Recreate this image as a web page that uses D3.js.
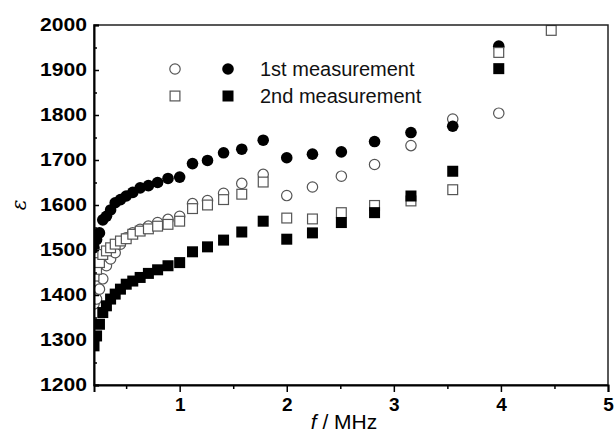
<!DOCTYPE html>
<html>
<head>
<meta charset="utf-8">
<script src="https://cdn.jsdelivr.net/npm/d3@7"></script>
<style>
  body { margin: 0; background: #fff; }
  svg { display: block; }
</style>
</head>
<body>
<div id="chart"></div>
<script>
// frequency points (MHz), 20 per decade
const freq = [0.2, 0.224, 0.251, 0.282, 0.316, 0.355, 0.398, 0.447, 0.501, 0.562,
              0.631, 0.708, 0.794, 0.891, 1.0, 1.12, 1.26, 1.41, 1.58, 1.78,
              2.0, 2.24, 2.51, 2.82, 3.16, 3.55, 3.98, 4.47];

// 1st measurement, open circles
const firstOpen = [1380, 1391, 1413, 1436, 1465, 1480, 1494, 1513, 1527, 1538,
                   1546, 1553, 1561, 1568, 1575, 1603, 1610, 1626, 1648, 1668,
                   1621, 1640, 1664, 1690, 1732, 1791, 1804, null];
// 1st measurement, filled circles
const firstFilled = [1505, 1523, 1538, 1567, 1575, 1589, 1605, 1612, 1620, 1628,
                     1638, 1643, 1650, 1659, 1662, 1692, 1699, 1716, 1724, 1744,
                     1705, 1713, 1718, 1741, 1761, 1775, 1953, null];
// 2nd measurement, open squares
const secondOpen = [1442, 1457, 1472, 1490, 1498, 1505, 1513, 1520, 1525, 1535,
                    1542, 1547, 1553, 1557, 1564, 1592, 1600, 1612, 1624, 1651,
                    1571, 1569, 1583, 1599, 1609, 1634, 1939, 1988];
// 2nd measurement, filled squares
const secondFilled = [1287, 1309, 1335, 1361, 1376, 1391, 1402, 1413, 1424, 1431,
                      1439, 1448, 1456, 1465, 1472, 1496, 1507, 1522, 1540, 1564,
                      1524, 1538, 1561, 1583, 1620, 1675, 1903, null];

const xMajor = [1, 2, 3, 4, 5];
const xMinor = [0.5, 1.5, 2.5, 3.5, 4.5];
const yMajor = [1200, 1300, 1400, 1500, 1600, 1700, 1800, 1900, 2000];
const yMinor = [1250, 1350, 1450, 1550, 1650, 1750, 1850, 1950];

const legendLabels = ["1st measurement", "2nd measurement"];

const width = 614, height = 433;
const margin = { top: 25, right: 6, bottom: 48, left: 94 };

const x = d3.scaleLinear()
    .domain([0.2, 5])
    .range([margin.left, width - margin.right]);

const y = d3.scaleLinear()
    .domain([1200, 2000])
    .range([height - margin.bottom, margin.top]);

const svg = d3.select("#chart").append("svg")
    .attr("width", width)
    .attr("height", height)
    .style("font-family", "'Liberation Sans', Arial, sans-serif");

svg.append("defs").append("clipPath")
    .attr("id", "plotClip")
    .append("rect")
    .attr("x", margin.left)
    .attr("y", margin.top)
    .attr("width", width - margin.left - margin.right)
    .attr("height", height - margin.top - margin.bottom);

const pairs = vals => freq.map((f, i) => ({ f, v: vals[i] })).filter(d => d.v != null);

const plot = svg.append("g").attr("clip-path", "url(#plotClip)");
const r = 5.8, s = 11;
const openStroke = "#555";

function circles(vals, filled) {
    plot.append("g").selectAll("circle")
        .data(pairs(vals))
        .join("circle")
        .attr("cx", d => x(d.f))
        .attr("cy", d => y(d.v))
        .attr("r", filled ? r : r - 0.6)
        .attr("fill", filled ? "#000" : "#fff")
        .attr("stroke", filled ? "none" : openStroke)
        .attr("stroke-width", 1.2);
}

function squares(vals, filled) {
    const side = filled ? s : s - 1.2;
    plot.append("g").selectAll("rect")
        .data(pairs(vals))
        .join("rect")
        .attr("x", d => x(d.f) - side / 2)
        .attr("y", d => y(d.v) - side / 2)
        .attr("width", side)
        .attr("height", side)
        .attr("fill", filled ? "#000" : "#fff")
        .attr("stroke", filled ? "none" : openStroke)
        .attr("stroke-width", 1.2);
}

// draw order as seen in the overlaps
circles(firstOpen, false);
circles(firstFilled, true);
squares(secondOpen, false);
squares(secondFilled, true);

// Frame
svg.append("rect")
    .attr("x", margin.left)
    .attr("y", margin.top)
    .attr("width", width - margin.left - margin.right)
    .attr("height", height - margin.top - margin.bottom)
    .attr("fill", "none")
    .attr("stroke", "#222")
    .attr("stroke-width", 1.5);

// X axis
const xAxis = svg.append("g")
    .attr("transform", `translate(0,${height - margin.bottom})`)
    .call(d3.axisBottom(x).tickValues(xMajor).tickSize(7).tickPadding(6).tickFormat(d3.format("d")));
xAxis.select(".domain").attr("stroke-width", 2);
xAxis.selectAll(".tick line").attr("stroke-width", 1.5);
xAxis.selectAll("text")
    .attr("font-size", 19)
    .attr("font-weight", "bold")
    .attr("font-family", "'Liberation Sans', Arial, sans-serif")
    .attr("fill", "#000");

svg.append("g")
    .attr("transform", `translate(0,${height - margin.bottom})`)
    .call(d3.axisBottom(x).tickValues(xMinor).tickSize(4).tickFormat(""))
    .call(g => g.select(".domain").remove())
    .selectAll(".tick line").attr("stroke-width", 1.5);

// Y axis (ticks point inward)
const yAxis = svg.append("g")
    .attr("transform", `translate(${margin.left},0)`)
    .call(d3.axisLeft(y).tickValues(yMajor).tickSize(-5).tickPadding(7).tickFormat(d3.format("d")));
yAxis.select(".domain").attr("stroke-width", 2);
yAxis.selectAll(".tick line").attr("stroke-width", 1.5);
yAxis.selectAll("text")
    .attr("font-size", 18)
    .attr("font-weight", "bold")
    .attr("font-family", "'Liberation Sans', Arial, sans-serif")
    .attr("fill", "#000")
    .attr("textLength", 47)
    .attr("lengthAdjust", "spacingAndGlyphs");

svg.append("g")
    .attr("transform", `translate(${margin.left},0)`)
    .call(d3.axisLeft(y).tickValues(yMinor).tickSize(-3).tickFormat(""))
    .call(g => g.select(".domain").remove())
    .selectAll(".tick line").attr("stroke-width", 1.5);

// Axis labels
const xLabel = svg.append("text")
    .attr("x", 344)
    .attr("y", 429)
    .attr("text-anchor", "middle")
    .attr("font-size", 21)
    .attr("fill", "#000");
xLabel.append("tspan").attr("font-style", "italic").text("f");
xLabel.append("tspan").text(" / MHz");

svg.append("text")
    .attr("transform", "translate(26,205) rotate(-90)")
    .attr("text-anchor", "middle")
    .attr("font-size", 20)
    .attr("font-style", "italic")
    .attr("font-family", "'DejaVu Serif', 'Liberation Serif', serif")
    .attr("fill", "#000")
    .text("ε");

// Legend
const legend = svg.append("g");
const rowY = [69, 96];

legend.append("circle").attr("cx", 175).attr("cy", rowY[0]).attr("r", r - 0.6)
    .attr("fill", "#fff").attr("stroke", openStroke).attr("stroke-width", 1.2);
legend.append("circle").attr("cx", 228).attr("cy", rowY[0]).attr("r", r)
    .attr("fill", "#000");
legend.append("rect").attr("x", 175 - (s - 1.2) / 2).attr("y", rowY[1] - (s - 1.2) / 2)
    .attr("width", s - 1.2).attr("height", s - 1.2)
    .attr("fill", "#fff").attr("stroke", openStroke).attr("stroke-width", 1.2);
legend.append("rect").attr("x", 228 - s / 2).attr("y", rowY[1] - s / 2)
    .attr("width", s).attr("height", s)
    .attr("fill", "#000");

legend.selectAll("text.lab")
    .data(legendLabels)
    .join("text")
    .attr("class", "lab")
    .attr("x", 260)
    .attr("y", (d, i) => rowY[i] + 7)
    .attr("font-size", 20)
    .attr("fill", "#111")
    .text(d => d);
</script>
</body>
</html>
